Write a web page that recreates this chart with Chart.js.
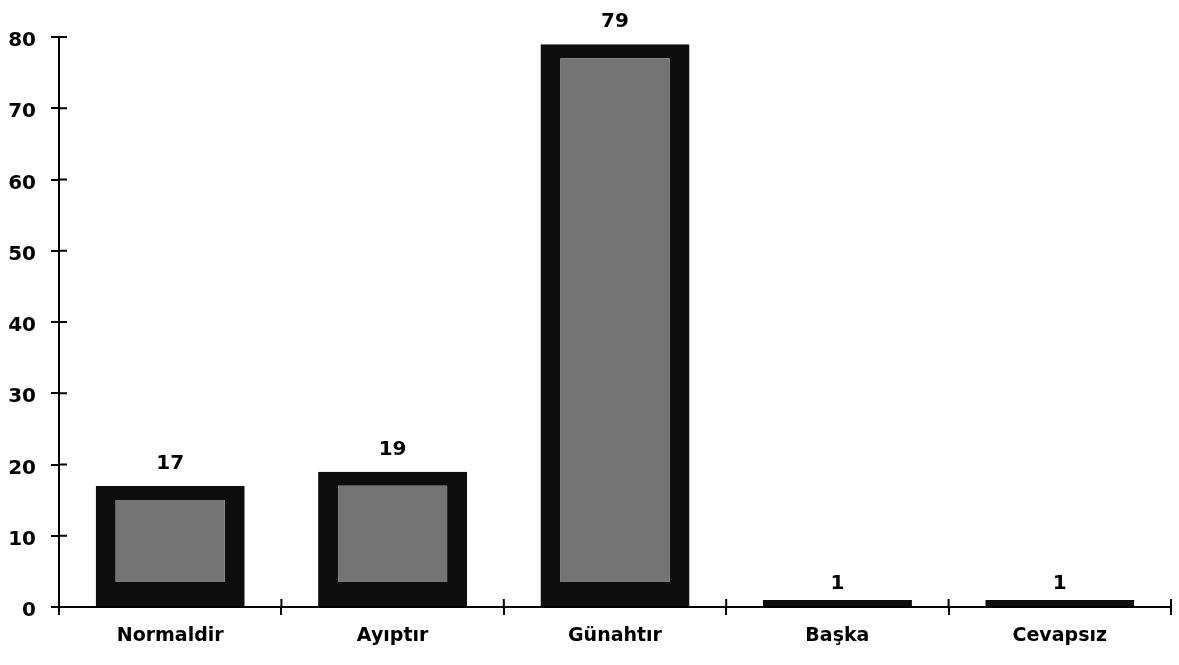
<!DOCTYPE html>
<html>
<head>
<meta charset="utf-8">
<script src="https://cdn.jsdelivr.net/npm/chart.js@4.4.0/dist/chart.umd.min.js"></script>
<style>
  html, body { margin: 0; padding: 0; background: #fff; }
  #wrap { width: 1179px; height: 665px; }
</style>
</head>
<body>
<div id="wrap"><canvas id="myChart" width="1179" height="665"></canvas></div>
<script>
// chart data
let categories = ["Normaldir", "Ayıptır", "Günahtır", "Başka", "Cevapsız"];
let values = [17, 19, 79, 1, 1];
let yTicks = [0, 10, 20, 30, 40, 50, 60, 70, 80];

let tickFont = { family: "DejaVu Sans", size: 20, weight: "bold" };
let catFont = { family: "DejaVu Sans", size: 19, weight: "bold" };

// tick marks that cross the axis + value labels above bars
let crossTicks = {
  id: "crossTicks",
  afterDraw(chart) {
    let c = chart.ctx, x = chart.scales.x, y = chart.scales.y;
    c.save();
    c.strokeStyle = "#000";
    c.lineWidth = 2;
    c.beginPath();
    yTicks.forEach(v => {
      let py = y.getPixelForValue(v);
      c.moveTo(y.right, py);
      c.lineTo(y.right + 8, py);
    });
    for (let i = 0; i <= categories.length; i++) {
      let px = x.left + (x.right - x.left) * i / categories.length;
      c.moveTo(px, x.top);
      c.lineTo(px, x.top - 8);
    }
    c.stroke();

    c.fillStyle = "#000";
    c.font = "bold 20px 'DejaVu Sans'";
    c.textAlign = "center";
    c.textBaseline = "bottom";
    chart.getDatasetMeta(0).data.forEach((bar, i) => {
      c.fillText(String(values[i]), bar.x, bar.y - (values[i] < 5 ? 6 : 12));
    });
    c.restore();
  }
};

let ctx = document.getElementById("myChart").getContext("2d");
let myChart = new Chart(ctx, {
  type: "bar",
  data: {
    labels: categories,
    datasets: [{
      data: values,
      backgroundColor: "#747474",
      borderColor: "#0d0d0d",
      borderWidth: { top: 14, left: 20, right: 20, bottom: 24 },
      borderSkipped: false,
      barPercentage: 0.67,
      categoryPercentage: 1
    }]
  },
  options: {
    responsive: false,
    animation: false,
    layout: { padding: { top: 37, right: 8, left: 0, bottom: 0 } },
    plugins: { legend: { display: false }, tooltip: { enabled: false } },
    scales: {
      x: {
        afterFit: s => { s.height = 58; },
        border: { color: "#000", width: 2 },
        grid: { drawOnChartArea: false, drawTicks: true, tickLength: 8, color: "#000", lineWidth: 2 },
        ticks: { color: "#000", font: catFont, padding: 10 }
      },
      y: {
        min: 0,
        max: 80,
        afterFit: s => { s.width = 59; },
        border: { color: "#000", width: 2 },
        grid: { drawOnChartArea: false, drawTicks: true, tickLength: 8, color: "#000", lineWidth: 2 },
        ticks: { color: "#000", font: tickFont, stepSize: 10, padding: 15, labelOffset: 4 }
      }
    }
  },
  plugins: [crossTicks]
});
</script>
</body>
</html>
